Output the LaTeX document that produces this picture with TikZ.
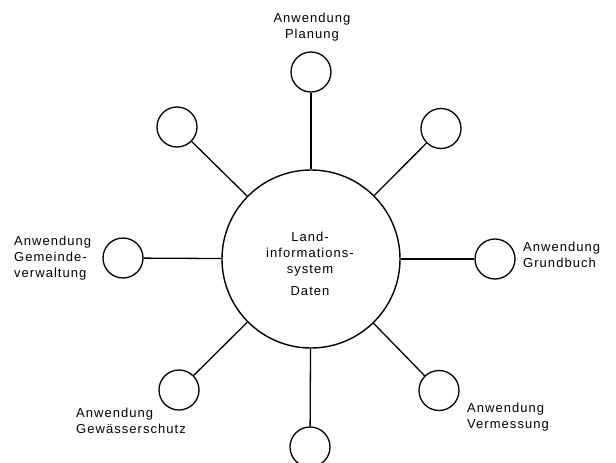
\documentclass[tikz,border=0pt]{standalone}
\usepackage{fontspec}
\setmainfont{Liberation Sans}[LetterSpace=8]
\begin{document}
\begin{tikzpicture}[x=1pt,y=-1pt,
  app/.style={circle,draw,line width=1.3pt,minimum size=40pt,inner sep=0pt},
  core/.style={circle,draw,line width=1.4pt,minimum size=178pt,inner sep=0pt},
  link/.style={line width=1.3pt},
  lbl/.style={inner sep=0pt,font=\fontsize{13}{16}\selectfont}]
\useasboundingbox (0,0) rectangle (616,463);
\node[core] (c) at (311,259) {};
\node[app] (n)  at (311,72) {};
\node[app] (nw) at (177,127) {};
\node[app] (ne) at (441,128.5) {};
\node[app] (w)  at (123,258) {};
\node[app] (e)  at (495,259) {};
\node[app] (sw) at (179,390) {};
\node[app] (s)  at (310,447) {};
\node[app] (se) at (439,390.5) {};
\foreach \t in {n,nw,ne,w,e,sw,s,se} \draw[link] (c) -- (\t);
\node[lbl,align=center,anchor=north] (ct) at (310,231.5)
  {Land-\\informations-\\system\\[6pt]Daten};
\node[lbl,align=center,anchor=north] (ln) at (312,13) {Anwendung\\Planung};
\node[lbl,align=left,anchor=north west] (lw) at (14,235.7) {Anwendung\\Gemeinde-\\verwaltung};
\node[lbl,align=left,anchor=north west] (le) at (523,241.7) {Anwendung\\Grundbuch};
\node[lbl,align=left,anchor=north west] (lsw) at (76,407.7) {Anwendung\\Gewässerschutz};
\node[lbl,align=left,anchor=north west] (lse) at (467,402.7) {Anwendung\\Vermessung};
\end{tikzpicture}
\end{document}
